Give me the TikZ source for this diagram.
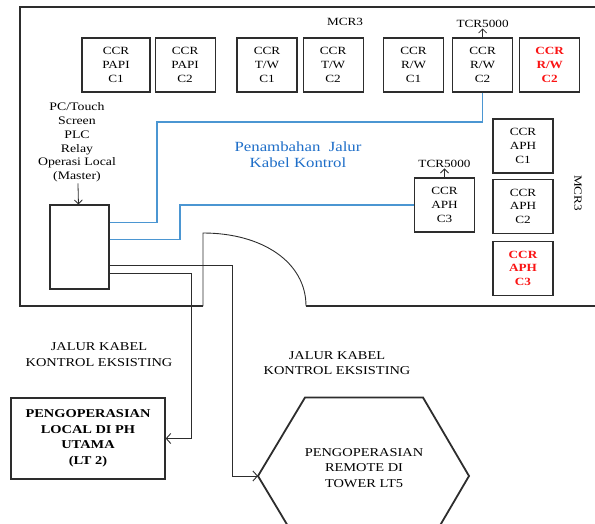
\documentclass[tikz,border=0pt]{standalone}
\usepackage{fontspec}
\setmainfont{Liberation Serif}[FakeStretch=1.2]
\usetikzlibrary{positioning,arrows.meta,calc}
\definecolor{PanelInk}{RGB}{45,45,45}
\definecolor{CableBlue}{RGB}{75,150,210}
\definecolor{NoteBlue}{RGB}{30,110,200}
\definecolor{NewRed}{RGB}{250,20,20}
\tikzset{
  panel box/.style={
    draw=PanelInk,
    line width=1.1pt,
    align=center,
    inner sep=0pt,
    minimum width=60pt,
    minimum height=54pt,
    font=\fontsize{11}{13.6}\selectfont
  },
  panel new/.style={panel box, text=NewRed, font=\fontsize{11}{13.6}\selectfont\bfseries},
  panel label/.style={align=center, inner sep=1pt, font=\fontsize{11}{13.6}\selectfont},
  tcr arrow/.style={-{Straight Barb[length=4pt,width=8pt]}, line width=0.8pt, PanelInk},
  blue cable/.style={CableBlue, line width=1.2pt},
  black cable/.style={PanelInk, line width=0.9pt, -{Straight Barb[length=4.5pt,width=10pt]}},
  room wall/.style={PanelInk, line width=1.1pt}
}

\begin{document}
\begin{tikzpicture}[x=1pt,y=-1pt]
\useasboundingbox (0,0) rectangle (595,524);
% MCR3 room with door
\draw[room wall] (203,306) -- (20,306) -- (20,7) -- (600,7) -- (600,306) -- (306,306);
\draw[room wall, line width=0.9pt] (203,306) -- (203,233) .. controls (262,233) and (306,262) .. (306,306);
\node[panel label] (mcr) at (345,22) {MCR3};
\node[panel label, rotate=-90] (mcrside) at (578,193) {MCR3};
% CCR panels, top row
\node[panel box, minimum width=68pt] (papi1) at (116,65) {CCR\\PAPI\\C1};
\node[panel box, right=4pt of papi1] (papi2) {CCR\\PAPI\\C2};
\node[panel box] (tw1) at (267,65) {CCR\\T/W\\C1};
\node[panel box, right=5pt of tw1] (tw2) {CCR\\T/W\\C2};
\node[panel box] (rw1) at (413.5,65) {CCR\\R/W\\C1};
\node[panel box, right=8pt of rw1] (rw2) {CCR\\R/W\\C2};
\node[panel new, right=6pt of rw2] (rwnew) {CCR\\R/W\\C2};
\node[panel label, above=9pt of rw2] (tcra) {TCR5000};
\draw[tcr arrow] (rw2) -- (tcra);
% CCR panels, right column
\node[panel box] (aph1) at (523,146) {CCR\\APH\\C1};
\node[panel box, below=5pt of aph1] (aph2) {CCR\\APH\\C2};
\node[panel new, below=7pt of aph2] (aphnew) {CCR\\APH\\C3};
\node[panel box] (aph3) at (444.5,205) {CCR\\APH\\C3};
\node[panel label, above=9pt of aph3] (tcrb) {TCR5000};
\draw[tcr arrow] (aph3) -- (tcrb);
% local control cabinet
\node[panel label, font=\fontsize{11.5}{13.8}\selectfont] (pclabel) at (77,142.5) {PC/Touch\\Screen\\PLC\\Relay\\Operasi Local\\(Master)};
\node[panel box, minimum width=59pt, minimum height=84pt] (pc) at (79.5,247) {};
\draw[tcr arrow] (pclabel) -- (pc);
\node[panel label, text=NoteBlue, font=\fontsize{14}{16}\selectfont] (newroute) at (298,155) {Penambahan\ \ Jalur\\Kabel\ Kontrol};
\draw[blue cable] (rw2.south) |- (157,122) |- ([yshift=-18pt]pc.north east);
\draw[blue cable] ([yshift=-35pt]pc.north east) -| (180,205) -- (aph3.west);
% operating positions
\node[panel box, line width=1.3pt, minimum width=154pt, minimum height=81pt, font=\fontsize{12}{15.5}\selectfont\bfseries] (local) at (88,438.5) {PENGOPERASIAN\\LOCAL DI PH\\UTAMA\\(LT 2)};
\coordinate (hexW) at (258,476);
\coordinate (hexE) at (469,476);
\draw[PanelInk, line width=1.8pt] (hexW) -- (305,397.5) -- (423,397.5) -- (hexE) -- (423,554.5) -- (305,554.5) -- cycle;
\node[panel label, font=\fontsize{12}{15.5}\selectfont] (remote) at (364,468) {PENGOPERASIAN\\REMOTE DI\\TOWER LT5};
\node[panel label, font=\fontsize{12}{15.5}\selectfont] (oldroute1) at (99,354.5) {JALUR KABEL\\KONTROL EKSISTING};
\node[panel label, font=\fontsize{12}{15.5}\selectfont] (oldroute2) at (337,363) {JALUR KABEL\\KONTROL EKSISTING};
\draw[black cable] ([yshift=-61pt]pc.north east) -| ([xshift=-26pt]hexW) -- (hexW);
\draw[black cable] ([yshift=-69pt]pc.north east) -| ([xshift=26pt]local.east) -- (local.east);
\end{tikzpicture}
\end{document}
